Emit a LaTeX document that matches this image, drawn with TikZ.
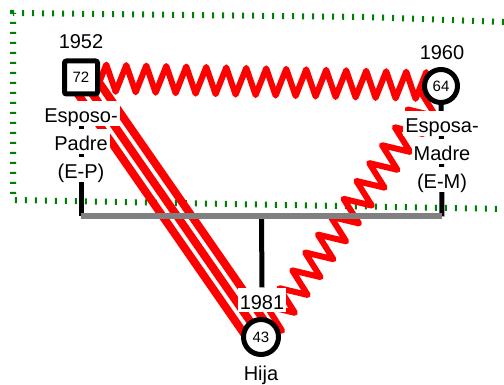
\documentclass[tikz,border=0pt]{standalone}
\usepackage{fontspec}
\setmainfont{Liberation Sans}
\usetikzlibrary{calc,decorations.pathmorphing,backgrounds}
\definecolor{gdot}{RGB}{0,128,0}
\definecolor{kred}{RGB}{255,0,0}
\definecolor{gbar}{RGB}{128,128,128}
\begin{document}
\begin{tikzpicture}[x=1pt,y=-1pt,
  big/.style={font=\fontsize{20}{24}\selectfont},
  lab/.style={big, fill=white, inner xsep=2pt, inner ysep=2.5pt, text height=19pt, text depth=0.5pt, anchor=base},
  yr/.style={big, inner sep=1pt, anchor=base},
  num/.style={font=\fontsize{15}{18}\selectfont},
  male/.style={draw, rectangle, line width=5pt, fill=white, rounded corners=2pt, minimum size=33pt, inner sep=0pt, num},
  fem/.style={draw, circle, line width=5pt, fill=white, minimum size=33pt, inner sep=0pt, num},
  kin/.style={line width=5pt, black},
  bar/.style={line width=6pt, gbar},
  bound/.style={line width=6pt, gdot, dash pattern=on 2pt off 8pt},
  tri/.style={line width=8pt, kred},
  zz/.style={line width=6pt, kred, line join=round, decorate, decoration={zigzag, amplitude=13.5pt, segment length=#1}},
]
\useasboundingbox (0,0) rectangle (504,385);

% persons
\node[male] (m) at (81,77.5) {72};
\node[fem]  (f) at (441,86) {64};
\node[fem, minimum size=35pt] (h) at (261,337) {43};

% years
\node[yr] (y52) at (81,49) {1952};
\node[yr] (y60) at (442,59.5) {1960};
\node[lab] (y81) at (262,309) {1981};

% roles
\node[lab] (ep1) at (81,123) {Esposo-};
\node[lab] (ep2) at (81,151) {Padre};
\node[lab] (ep3) at (81,179) {(E-P)};
\node[lab] (em1) at (442,133) {Esposa-};
\node[lab] (em2) at (442,161) {Madre};
\node[lab] (em3) at (442,189) {(E-M)};
\node[lab] (hj) at (261,380) {Hija};

% junction points
\coordinate (jl) at (81,216.5);
\coordinate (jr) at (442,216.5);
\coordinate (jc) at (261.5,216.5);
\coordinate (b1) at (504,22);
\coordinate (b2) at (365,17);
\coordinate (b3) at (13,13);
\coordinate (b4) at (13,200);
\coordinate (b5) at (230,204);
\coordinate (b6) at (504,209);

\begin{pgfonlayer}{background}
  \draw[bound] (b1) -- (b2) -- (b3) -- (b4) -- (b5) -- (b6);
  \draw[kin] (m.center) -- (jl);
  \draw[kin] (f.center) -- (jr);
  \draw[kin] (jc) -- (y81.north);
  % triple line father - daughter
  \draw[tri] (m.center) -- (h.center);
  \draw[tri] ($(m.center)!12pt!90:(h.center)$) -- ($(h.center)!12pt!-90:(m.center)$);
  \draw[tri] ($(m.center)!12pt!-90:(h.center)$) -- ($(h.center)!12pt!90:(m.center)$);
  % zigzags
  \draw[zz=20pt] (m.center) -- (f.center);
  \draw[zz=22pt] (f.center) -- (h.center);
  \draw[bar] (jl) -- (jr);
\end{pgfonlayer}
\end{tikzpicture}
\end{document}
